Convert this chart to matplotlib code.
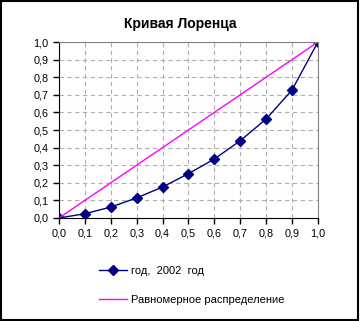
import matplotlib
matplotlib.use("Agg")
import matplotlib.pyplot as plt
from matplotlib.patches import Rectangle

# Data
share_population = [0.0, 0.1, 0.2, 0.3, 0.4, 0.5, 0.6, 0.7, 0.8, 0.9, 1.0]
share_income = [0.0, 0.024, 0.062, 0.114, 0.176, 0.252, 0.335, 0.439, 0.5625, 0.727, 1.0]
equal_x = [0.0, 1.0]
equal_y = [0.0, 1.0]
ticks = [0.0, 0.1, 0.2, 0.3, 0.4, 0.5, 0.6, 0.7, 0.8, 0.9, 1.0]
tick_labels = ["0,0", "0,1", "0,2", "0,3", "0,4", "0,5", "0,6", "0,7", "0,8", "0,9", "1,0"]

plt.rcParams['font.family'] = ['Liberation Sans', 'DejaVu Sans']

fig = plt.figure(figsize=(3.6, 3.21), dpi=100)
ax = fig.add_axes([0.164, 0.321, 0.719, 0.548])

line1, = ax.plot(share_population, share_income, color='#000080', linewidth=1,
                 marker='D', markersize=5, label='год,  2002  год')
line2, = ax.plot(equal_x, equal_y, color='#ff00ff', linewidth=1,
                 label='Равномерное распределение')

ax.set_xlim(0, 1)
ax.set_ylim(0, 1)
ax.set_xticks(ticks)
ax.set_yticks(ticks)
ax.set_xticklabels(tick_labels, fontsize=7.8)
ax.set_yticklabels(tick_labels, fontsize=7.8)
ax.tick_params(direction='out', length=4, width=1, color='black', pad=3.5)
ax.grid(True, color='#b0b0b0', linestyle=(0, (4, 3)), linewidth=0.8)
ax.set_axisbelow(True)

for side in ['top', 'right']:
    ax.spines[side].set_color('#808080')
for side in ['left', 'bottom']:
    ax.spines[side].set_color('black')

fig.text(0.5, 0.925, 'Кривая Лоренца', ha='center', va='center',
         fontsize=10, fontweight='bold')

fig.legend(handles=[line1, line2], loc='upper left', bbox_to_anchor=(0.263, 0.184),
           frameon=False, fontsize=8, handlelength=2.5, labelspacing=1.65,
           handletextpad=0.35, borderaxespad=0)

fig.patches.append(Rectangle((0.002, 0.004), 0.992, 0.992, transform=fig.transFigure,
                             fill=False, edgecolor='black', linewidth=1.5))

fig.savefig('out.png', dpi=100)
